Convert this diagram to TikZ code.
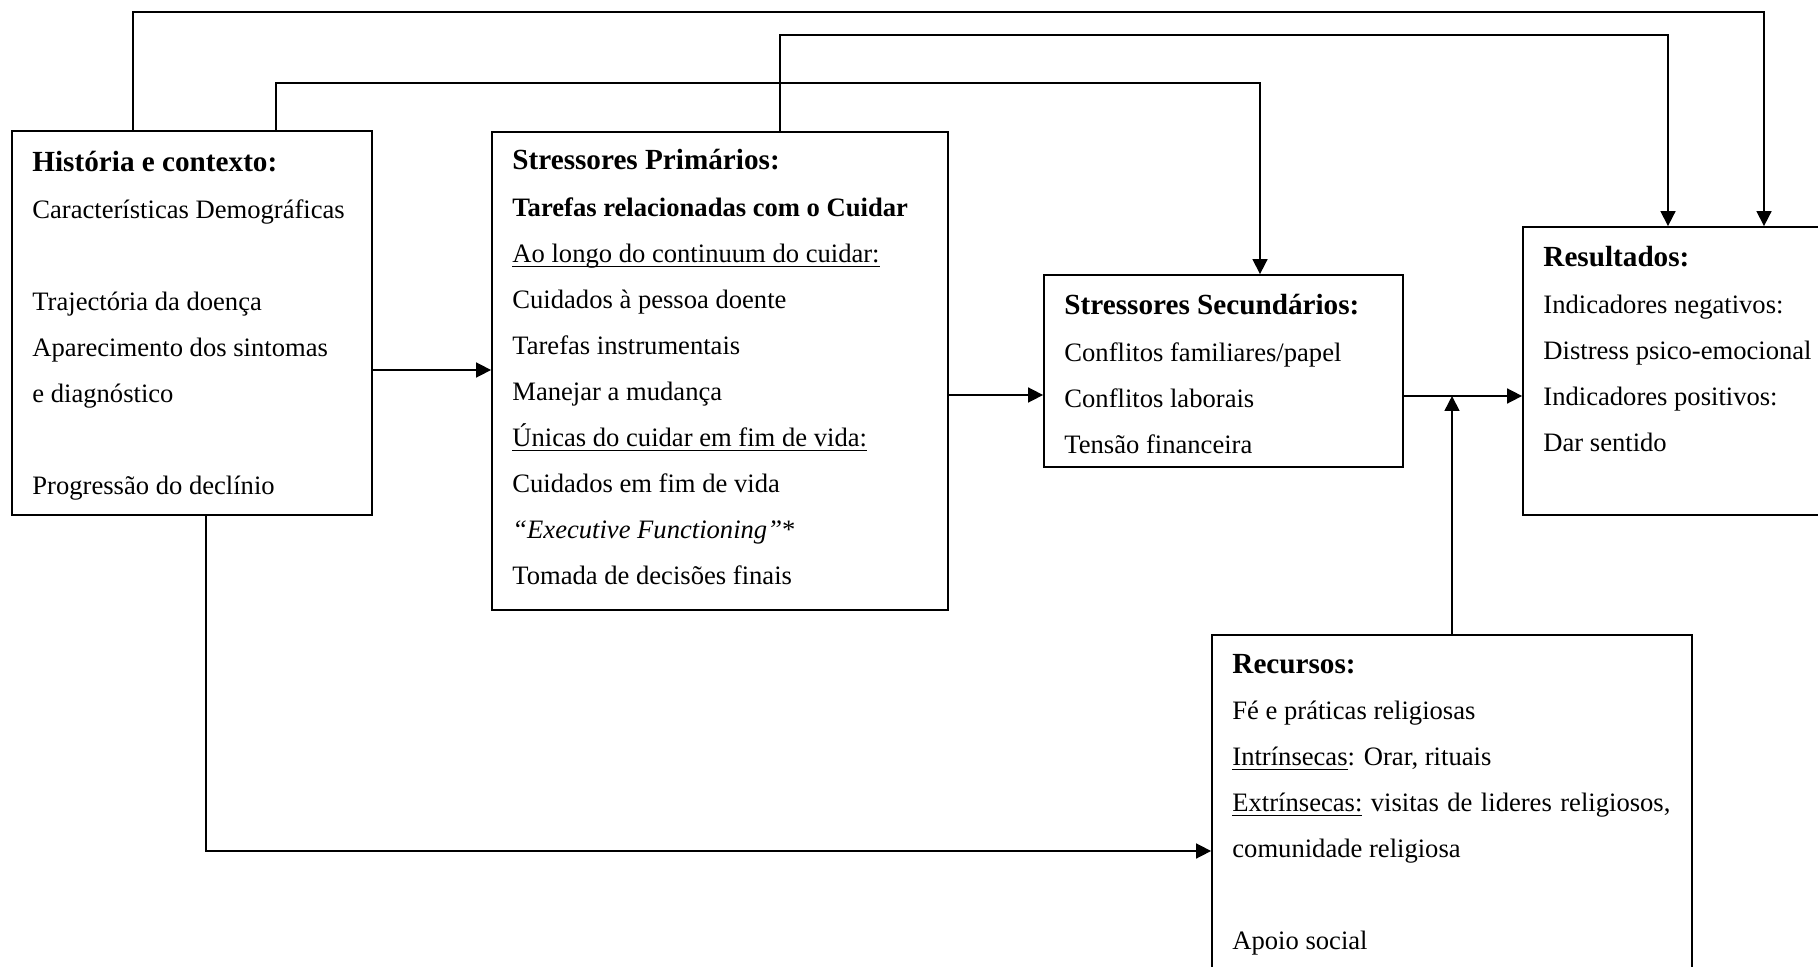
\documentclass[tikz,border=0pt]{standalone}
\usepackage{fontspec}
\setmainfont{Liberation Serif}
\usetikzlibrary{arrows.meta,fit}
% underline drawn as a rule just below the baseline
\newcommand\ulx[1]{\setbox0\hbox{#1}\rlap{\rule[-2.4pt]{\wd0}{0.6pt}}\box0\relax}
% box headings: bold, one size up
\newcommand\hd[1]{{\fontsize{14.6pt}{16pt}\selectfont\bfseries #1}}
\begin{document}
\begin{tikzpicture}[x=0.5pt,y=-0.5pt,
  box/.style={draw, line width=0.9pt, inner sep=0pt},
  ln/.style={anchor=base west, inner sep=0pt, font=\fontsize{13.3pt}{16pt}\selectfont},
  link/.style={line width=0.8pt},
  arr/.style={link, -{Triangle[length=7.5pt,width=7.5pt]}}]
\useasboundingbox (0,0) rectangle (1818,967);
\clip (0,0) rectangle (1818,967);

% boxes
\node[box, fit={(12,131) (372,515)}] (hist) {};
\node[box, fit={(492,132) (948,610)}] (prim) {};
\node[box, fit={(1044,275) (1403,467)}] (sec) {};
\node[box, fit={(1523,227) (1850,515)}] (res) {};
\node[box, fit={(1212,635) (1692,1000)}] (rec) {};

% box texts (row index times line pitch)
\foreach \r/\t [count=\k] in {
  0/{\hd{História e contexto:}},
  1/{Características Demográficas},
  3/{Trajectória da doença},
  4/{Aparecimento dos sintomas},
  5/{e diagnóstico},
  7/{Progressão do declínio}}
  \node[ln] (h\k) at (32,172+46.1*\r) {\t};

\foreach \r/\t [count=\k] in {
  0/{\hd{Stressores Primários:}},
  1/{\bfseries Tarefas relacionadas com o Cuidar},
  2/{\ulx{Ao longo do continuum do cuidar:}},
  3/{Cuidados à pessoa doente},
  4/{Tarefas instrumentais},
  5/{Manejar a mudança},
  6/{\ulx{Únicas do cuidar em fim de vida:}},
  7/{Cuidados em fim de vida},
  8/{{\itshape “Executive Functioning”}*},
  9/{Tomada de decisões finais}}
  \node[ln] (p\k) at (512,170+46.1*\r) {\t};

\foreach \r/\t [count=\k] in {
  0/{\hd{Stressores Secundários:}},
  1/{Conflitos familiares/papel},
  2/{Conflitos laborais},
  3/{Tensão financeira}}
  \node[ln] (s\k) at (1064,315+46.1*\r) {\t};

\foreach \r/\t [count=\k] in {
  0/{\hd{Resultados:}},
  1/{Indicadores negativos:},
  2/{Distress psico-emocional},
  3/{Indicadores positivos:},
  4/{Dar sentido}}
  \node[ln] (r\k) at (1543,267+46.1*\r) {\t};

\foreach \r/\t [count=\k] in {
  0/{\hd{Recursos:}},
  1/{Fé e práticas religiosas},
  2/{\ulx{Intrínsecas}: Orar, rituais},
  3/{\makebox[219pt][s]{\ulx{Extrínsecas:} visitas de lideres religiosos,}},
  4/{comunidade religiosa},
  6/{Apoio social}}
  \node[ln] (c\k) at (1232,673+46.1*\r) {\t};

% connectors
\coordinate (j) at (1452,396);
\draw[arr] (133,0 |- hist.north) |- (1764,12) -- (1764,0 |- res.north);
\draw[arr] (780,0 |- prim.north) |- (1668,35) -- (1668,0 |- res.north);
\draw[arr] (276,0 |- hist.north) |- (1260,83) -- (1260,0 |- sec.north);
\draw[arr] (hist.east |- 0,370) -- (prim.west |- 0,370);
\draw[arr] (prim.east |- 0,395) -- (sec.west |- 0,395);
\draw[arr] (sec.east |- j) -- (res.west |- j);
\draw[arr] (rec.north) -- (rec.north |- j);
\draw[arr] (206,0 |- hist.south) |- (rec.west |- 0,851);
\end{tikzpicture}
\end{document}
